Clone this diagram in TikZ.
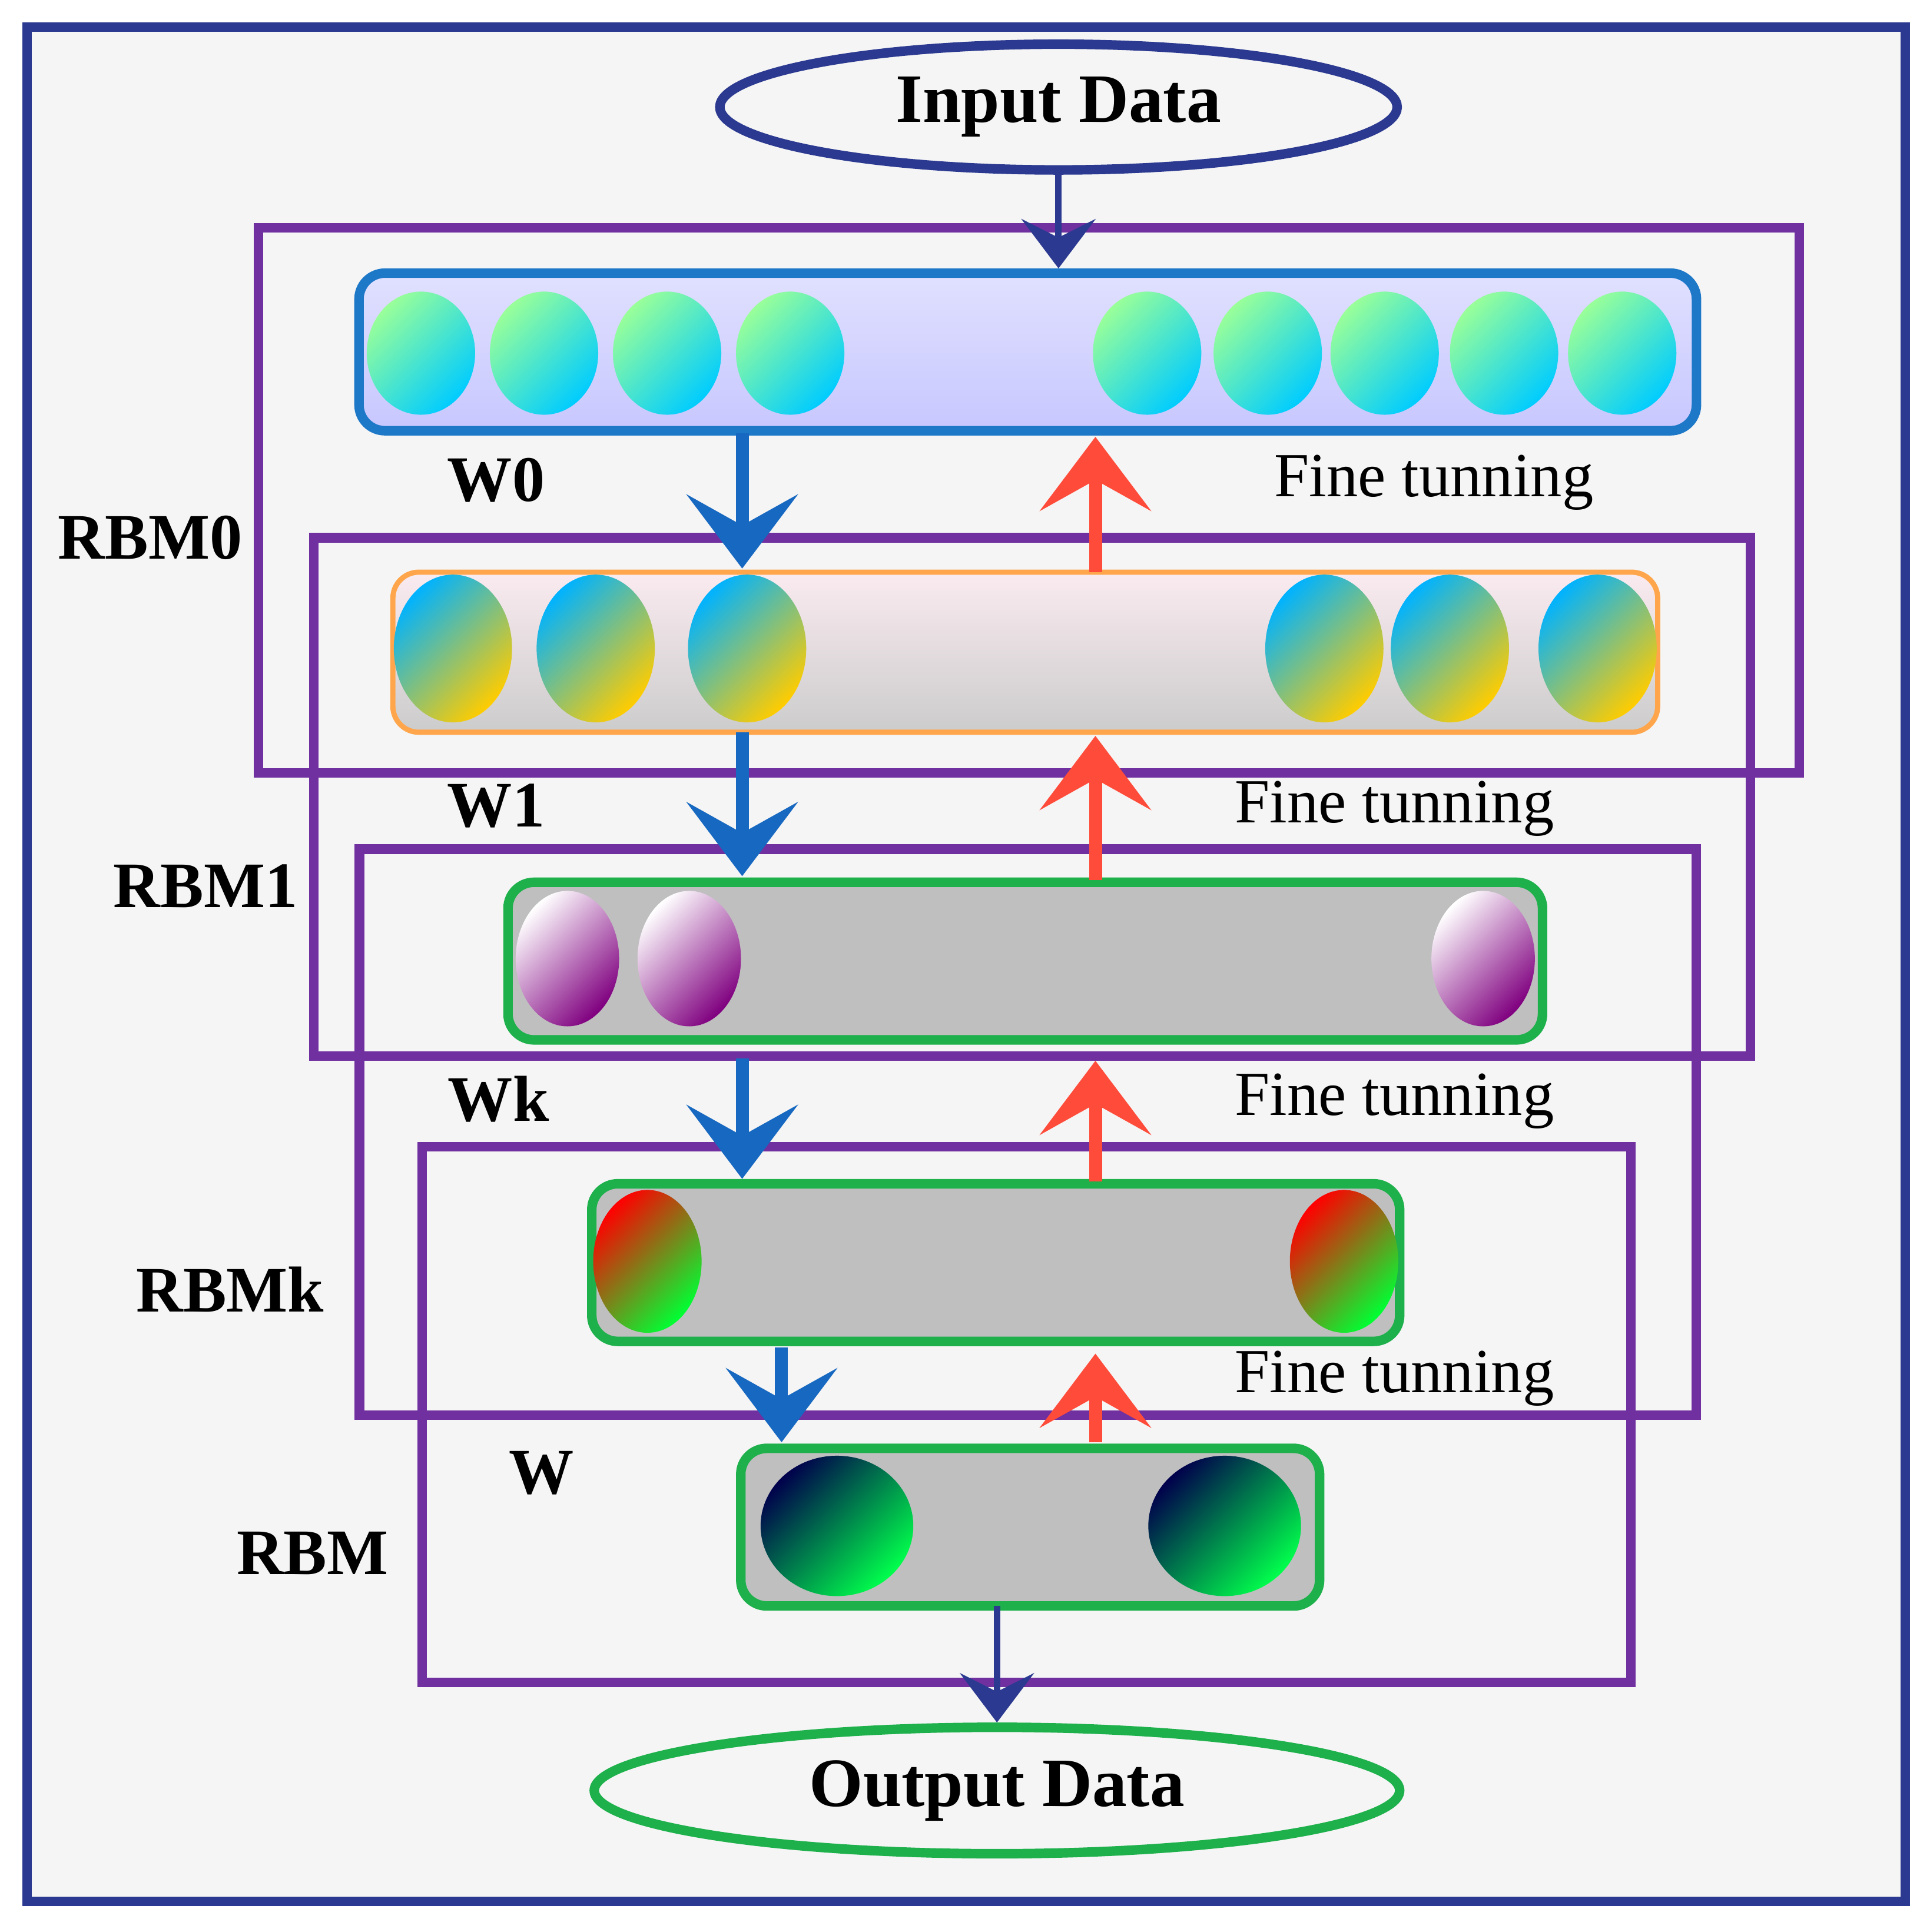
\documentclass[tikz,border=0pt]{standalone}
\usepackage{fontspec}
\setmainfont{Liberation Serif}
\usetikzlibrary{arrows.meta,shapes.geometric}
\definecolor{frame}{HTML}{2B3990}
\definecolor{purp}{HTML}{7030A0}
\definecolor{lblue}{HTML}{1E78C8}
\definecolor{gr}{HTML}{1DB04B}
\definecolor{redarr}{HTML}{FF4B3A}
\definecolor{bluearr}{HTML}{1768C0}
\tikzset{
 rbm/.style={draw=purp,line width=2.2pt},
 layer/.style={rounded corners=6pt,line width=2.2pt},
 lab/.style={font=\bfseries\fontsize{15}{17}\selectfont},
 fine/.style={font=\fontsize{14.5}{17}\selectfont},
 down/.style={draw=bluearr,line width=3pt,-{Stealth[length=6mm,width=9mm,inset=2.5mm]}},
 up/.style={draw=redarr,line width=3pt,-{Stealth[length=6mm,width=9mm,inset=2.5mm]}},
 io/.style={draw=frame,line width=1.5pt,-{Stealth[length=4mm,width=6mm,inset=1.5mm]}},
 cyb/.style={ellipse,minimum width=0.88cm,minimum height=1cm,shading=axis,top color=green!40!white,middle color=white,bottom color=cyan!80!blue,shading angle=45},
 yeb/.style={ellipse,minimum width=0.96cm,minimum height=1.2cm,shading=axis,top color=cyan!70!blue,middle color=yellow!60,bottom color=orange!40!yellow,shading angle=45},
 reb/.style={ellipse,minimum width=0.84cm,minimum height=1.1cm,shading=axis,top color=white,middle color=red,bottom color=red!50!blue,shading angle=45},
 rgb/.style={ellipse,minimum width=0.88cm,minimum height=1.16cm,shading=axis,top color=red,middle color=white!40!green!60!cyan,bottom color=green!80!cyan,shading angle=45},
 nab/.style={ellipse,minimum width=1.24cm,minimum height=1.14cm,shading=axis,top color=blue!30!black,middle color=blue!50!black,bottom color=green!70!cyan,shading angle=45},
}
\begin{document}
\begin{tikzpicture}[x=0.01cm,y=-0.01cm]
\useasboundingbox (0,0) rectangle (1568,1570);
\draw[frame,line width=2.2pt,fill={rgb,255:red,245;green,245;blue,245}] (22,22) rectangle (1548,1545);
\node[draw=frame,line width=2.2pt,ellipse,minimum width=5.5cm,minimum height=0.84cm,font=\bfseries\fontsize{16}{19}\selectfont] (in) at (860,87) {Input Data};
\node[draw=gr,line width=2.2pt,ellipse,minimum width=6.54cm,minimum height=0.96cm,font=\bfseries\fontsize{16}{19}\selectfont] (out) at (810,1455) {Output Data};
% rbm boxes
\draw[rbm] (210,185) rectangle (1462,628);
\draw[rbm] (255,437) rectangle (1422,858);
\draw[rbm] (292,690) rectangle (1378,1150);
\draw[rbm] (343,932) rectangle (1325,1367);
% layers
\node[layer,draw=lblue,top color=blue!12!white,bottom color=blue!22!white,minimum width=10.86cm,minimum height=1.28cm] (L1) at (835,286) {};
\node[layer,draw=orange!70,line width=1.2pt,top color=purple!8!white,bottom color=gray!40,minimum width=10.27cm,minimum height=1.3cm] (L2) at (833,530) {};
\node[layer,draw=gr,fill=gray!50,minimum width=8.4cm,minimum height=1.28cm] (L3) at (833,781) {};
\node[layer,draw=gr,fill=gray!50,minimum width=6.56cm,minimum height=1.28cm] (L4) at (809,1026) {};
\node[layer,draw=gr,fill=gray!50,minimum width=4.7cm,minimum height=1.28cm] (L5) at (837,1241) {};
\foreach \x/\n in {342/a,442/b,542/c,642/d,932/e,1030/f,1125/g,1222/h,1318/i} \node[cyb] (c\n) at (\x,287) {};
\foreach \x/\n in {368/a,484/b,607/c,1076/d,1178/e,1298/f} \node[yeb] (y\n) at (\x,527) {};
\foreach \x/\n in {461/a,560/b,1205/c} \node[reb] (r\n) at (\x,779) {};
\foreach \x/\n in {526/a,1092/b} \node[rgb] (g\n) at (\x,1025) {};
\foreach \x/\n in {680/a,995/b} \node[nab] (n\n) at (\x,1240) {};
% arrows
\coordinate (a1) at (603,352); \coordinate (b1) at (603,462);
\coordinate (a2) at (603,595); \coordinate (b2) at (603,712);
\coordinate (a3) at (603,860); \coordinate (b3) at (603,958);
\coordinate (a4) at (635,1095); \coordinate (b4) at (635,1172);
\foreach \i in {1,...,4} \draw[down] (a\i) -- (b\i);
\coordinate (u1) at (890,465); \coordinate (v1) at (890,355);
\coordinate (u2) at (890,715); \coordinate (v2) at (890,598);
\coordinate (u3) at (890,960); \coordinate (v3) at (890,862);
\coordinate (u4) at (890,1172); \coordinate (v4) at (890,1100);
\foreach \i in {1,...,4} \draw[up] (u\i) -- (v\i);
\coordinate (o1) at (810,1305);
\draw[io] (in) -- (in |- L1.north);
\draw[io] (o1) -- (out);
% labels
\node[lab] (w0) at (403,390) {W0};
\node[lab] (w1) at (403,655) {W1};
\node[lab] (wk) at (405,893) {Wk};
\node[lab] (w) at (440,1197) {W};
\node[lab] (r0) at (122,437) {RBM0};
\node[lab] (r1) at (167,720) {RBM1};
\node[lab] (rk) at (187,1048) {RBMk};
\node[lab] (r) at (254,1262) {RBM};
\node[fine] (f1) at (1165,392) {Fine tunning};
\node[fine] (f2) at (1133,657) {Fine tunning};
\node[fine] (f3) at (1133,895) {Fine tunning};
\node[fine] (f4) at (1133,1120) {Fine tunning};
\end{tikzpicture}
\end{document}
